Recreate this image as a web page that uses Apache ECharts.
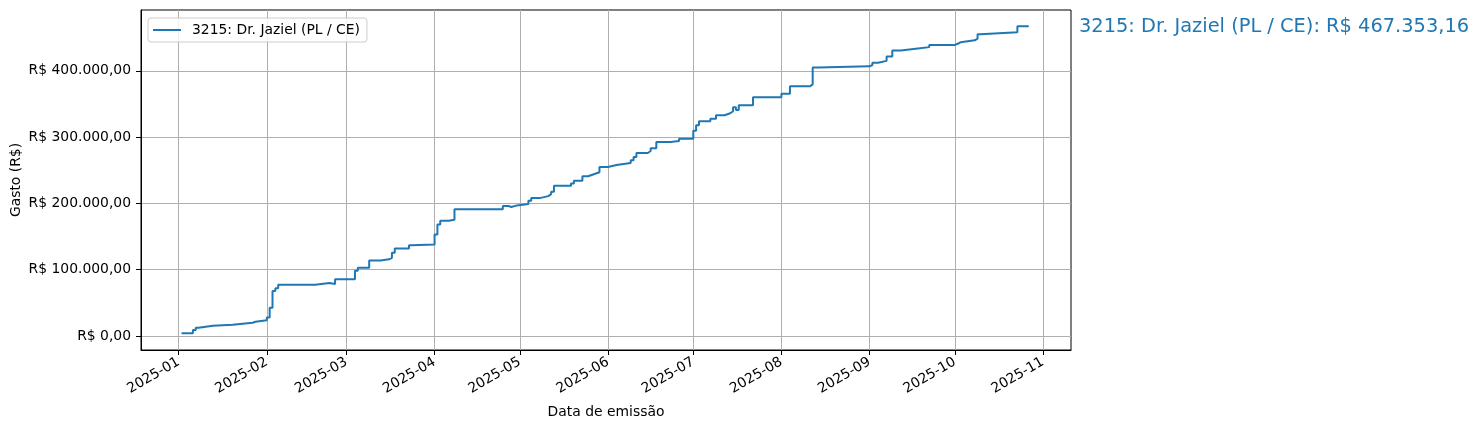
<!DOCTYPE html>
<html>
<head>
<meta charset="utf-8">
<script src="https://cdn.jsdelivr.net/npm/echarts@6/dist/echarts.min.js"></script>
<style>
html,body{margin:0;padding:0;background:#fff;}
#chart{width:1481px;height:430px;}
</style>
</head>
<body>
<div id="chart"></div>
<script>
// ---- data ----
const seriesName = '3215: Dr. Jaziel (PL / CE)';
const totalLabel = 'R$ 467.353,16';
const dates = [
  '2025-01-02','2025-01-06','2025-01-07','2025-01-08','2025-01-13','2025-01-20','2025-01-27','2025-01-28',
  '2025-02-01','2025-02-02','2025-02-03','2025-02-04','2025-02-05','2025-02-18','2025-02-23','2025-02-25',
  '2025-03-04','2025-03-05','2025-03-09','2025-03-13','2025-03-16','2025-03-17','2025-03-18','2025-03-23','2025-03-24',
  '2025-04-01','2025-04-02','2025-04-03','2025-04-06','2025-04-08','2025-04-25','2025-04-27','2025-04-28','2025-04-30',
  '2025-05-04','2025-05-05','2025-05-08','2025-05-11','2025-05-12','2025-05-13','2025-05-19','2025-05-20','2025-05-23',
  '2025-05-25','2025-05-27','2025-05-29',
  '2025-06-01','2025-06-04','2025-06-09','2025-06-10','2025-06-11','2025-06-15','2025-06-16','2025-06-18','2025-06-23','2025-06-26',
  '2025-07-01','2025-07-02','2025-07-03','2025-07-07','2025-07-09','2025-07-12','2025-07-14','2025-07-15','2025-07-16','2025-07-17','2025-07-22',
  '2025-08-01','2025-08-04','2025-08-11','2025-08-12','2025-08-14',
  '2025-09-01','2025-09-02','2025-09-04','2025-09-07','2025-09-09','2025-09-12','2025-09-18','2025-09-22',
  '2025-10-01','2025-10-02','2025-10-03','2025-10-08','2025-10-09','2025-10-10','2025-10-23','2025-10-27'
];
const cumulative = [
  4000, 9000, 12500, 15500, 17000, 20000, 21500, 23600,
  28000, 42700, 68000, 72000, 77400, 80000, 78400, 85500,
  98500, 103000, 114000, 115700, 118000, 125600, 132000, 137000, 138000,
  153000, 168000, 174000, 175500, 191000, 196000, 194500, 197000, 199000,
  204000, 208000, 211000, 214000, 217700, 226700, 230000, 234000, 241000,
  244000, 247000, 255000,
  258000, 261000, 265000, 270000, 276000, 279000, 283000, 292600, 294000, 297600,
  309600, 318000, 324000, 327500, 333000, 336000, 339000, 345000, 341000, 348000, 360000,
  365500, 376600, 379600, 405000, 406700,
  408700, 412000, 415000, 421700, 430700, 433700, 435700, 439000,
  440800, 443000, 446000, 448500, 455000, 458000, 467353.16, 467353.16
];
const yTickValues = [0, 100000, 200000, 300000, 400000];
const xTickLabels = ['2025-01','2025-02','2025-03','2025-04','2025-05','2025-06','2025-07','2025-08','2025-09','2025-10','2025-11'];

// ---- helpers ----
function parseDate(s){ const p = s.split('-').map(Number); return Date.UTC(p[0], p[1]-1, p[2] || 1); }
function fmtBRL(v){
  const neg = v < 0; v = Math.abs(v);
  const fixed = v.toFixed(2);
  let [intp, dec] = fixed.split('.');
  intp = intp.replace(/\B(?=(\d{3})+(?!\d))/g, '.');
  return (neg ? '-' : '') + 'R$ ' + intp + ',' + dec;
}
const DAY = 86400000;
const jan1 = parseDate('2025-01-01');
const xMin = jan1 - 13.26 * DAY;
const xMax = jan1 + 313.86 * DAY;
const xTicks = xTickLabels.map(parseDate);
const lineData = dates.map((d, i) => [parseDate(d), cumulative[i]]);

const FONT = 'DejaVu Sans';
const chart = echarts.init(document.getElementById('chart'), null, {renderer: 'canvas'});
chart.setOption({
  animation: false,
  textStyle: {fontFamily: FONT},
  grid: {left: 141, right: 410, top: 10, bottom: 80, containLabel: false, outerBoundsMode: 'none',
         show: true, borderColor: '#000', borderWidth: 1, backgroundColor: 'transparent'},
  legend: {
    left: 148, top: 18,
    orient: 'vertical',
    padding: [5, 7, 5, 5],
    borderColor: '#cccccc', borderWidth: 1, borderRadius: 3,
    backgroundColor: 'rgba(255,255,255,0.8)',
    itemWidth: 28, itemHeight: 2,
    icon: 'rect',
    textStyle: {fontFamily: FONT, fontSize: 13.9, color: '#000', padding: [0, 0, 0, 6]},
    data: [{name: seriesName, itemStyle: {color: '#1f77b4'}}]
  },
  graphic: [{
    type: 'text', left: 1079, top: 17,
    style: {text: seriesName + ': ' + totalLabel, fill: '#1f77b4', font: '19.4px "DejaVu Sans"'}
  }],
  xAxis: {
    type: 'value', min: xMin, max: xMax,
    name: 'Data de emissão', nameLocation: 'middle', nameGap: 55, nameMoveOverlap: false,
    nameTextStyle: {fontFamily: FONT, fontSize: 13.9, color: '#000'},
    axisLine: {show: true, onZero: false, lineStyle: {color: '#000', width: 1}},
    axisTick: {show: true, inside: false, length: 5, customValues: xTicks, lineStyle: {color: '#000'}},
    axisLabel: {
      customValues: xTicks, rotate: 30, margin: 11,
      fontFamily: FONT, fontSize: 13.9, color: '#000',
      formatter: function(v){ const d = new Date(v); return d.getUTCFullYear() + '-' + String(d.getUTCMonth()+1).padStart(2,'0'); }
    },
    splitLine: {show: true, lineStyle: {color: '#b0b0b0', width: 1}}
  },
  yAxis: {
    type: 'value', min: -21100, max: 491700,
    name: 'Gasto (R$)', nameLocation: 'middle', nameGap: 118, nameRotate: 90, nameMoveOverlap: false,
    nameTextStyle: {fontFamily: FONT, fontSize: 13.9, color: '#000'},
    axisLine: {show: true, onZero: false, lineStyle: {color: '#000', width: 1}},
    axisTick: {show: true, inside: false, length: 5, customValues: yTickValues, lineStyle: {color: '#000'}},
    axisLabel: {customValues: yTickValues, margin: 10, fontFamily: FONT, fontSize: 13.9, color: '#000', formatter: fmtBRL},
    splitLine: {show: true, lineStyle: {color: '#b0b0b0', width: 1}}
  },
  series: [{
    name: seriesName, type: 'line', step: 'end',
    data: lineData, showSymbol: false, symbol: 'none',
    lineStyle: {color: '#1f77b4', width: 2},
    itemStyle: {color: '#1f77b4'}
  }]
});
</script>
</body>
</html>
